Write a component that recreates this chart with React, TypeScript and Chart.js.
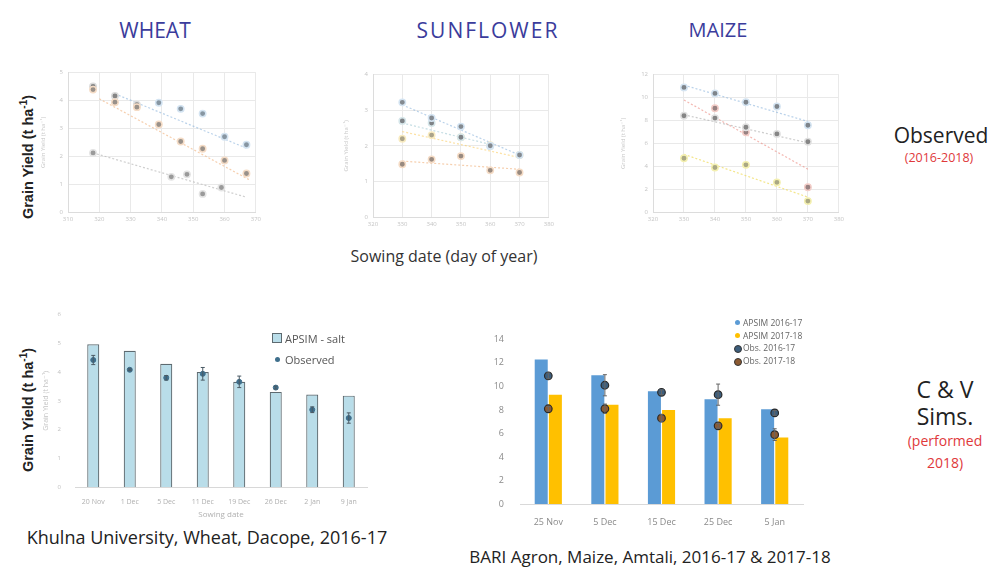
import React, { useEffect, useRef } from "react";
import { Chart, registerables } from "chart.js";
Chart.register(...registerables);

// ---------- Observed (top row) ----------
const wheatTicks = [310, 320, 330, 340, 350, 360, 370];
const wheatBlueX = [339, 346, 353, 360, 367];
const wheatBlueY = [3.92, 3.7, 3.53, 2.7, 2.41];
const wheatOrangeX = [318, 325, 332, 339, 346, 353, 360, 367];
const wheatOrangeY = [4.39, 3.94, 3.76, 3.14, 2.53, 2.27, 1.85, 1.38];
const wheatDarkX = [318, 325, 332];
const wheatDarkY = [4.5, 4.16, 3.85];
const wheatGrayX = [318, 343, 348, 353, 359];
const wheatGrayY = [2.12, 1.26, 1.35, 0.65, 0.88];
const wheatTrendBlueX = [325, 367];
const wheatTrendBlueY = [4.24, 2.29];
const wheatTrendOrangeX = [320, 368];
const wheatTrendOrangeY = [4.06, 1.15];
const wheatTrendGrayX = [318, 367];
const wheatTrendGrayY = [2.12, 0.53];

const sunTicks = [320, 330, 340, 350, 360, 370, 380];
const sunX = [330, 340, 350, 360, 370];
const sunBlueY = [3.22, 2.78, 2.54, 2.0, 1.74];
const sunDarkX = [330, 340, 350, 360];
const sunDarkY = [2.7, 2.64, 2.24, 1.99];
const sunYellowY = [2.2, 2.3, 2.24, 2.02, 1.74];
const sunOrangeY = [1.48, 1.62, 1.71, 1.31, 1.25];
const sunTrendX = [330, 370];
const sunTrendBlueY = [3.15, 1.74];
const sunTrendDarkX = [330, 360];
const sunTrendDarkY = [2.64, 2.04];
const sunTrendYellowY = [2.4, 1.67];
const sunTrendOrangeY = [1.57, 1.34];

const maizeTicks = [320, 330, 340, 350, 360, 370, 380];
const maizeX = [330, 340, 350, 360, 370];
const maizeBlueY = [10.88, 10.36, 9.58, 9.21, 7.57];
const maizeDarkY = [8.4, 8.2, 7.4, 6.82, 6.13];
const maizeRedX = [340, 350, 370];
const maizeRedY = [9.06, 6.96, 2.16];
const maizeYellowY = [4.69, 3.88, 4.12, 2.59, 0.95];
const maizeTrendX = [330, 370];
const maizeTrendBlueY = [11.08, 7.91];
const maizeTrendDarkY = [8.49, 6.04];
const maizeTrendRedY = [9.78, 3.74];
const maizeTrendYellowY = [5.04, 1.3];

// ---------- Simulations (bottom row) ----------
const wheatSimDates = ["20 Nov", "1 Dec", "5 Dec", "11 Dec", "19 Dec", "26 Dec", "2 Jan", "9 Jan"];
const apsimSalt = [4.97, 4.74, 4.29, 4.0, 3.66, 3.31, 3.22, 3.18];
const observedWheat = [4.42, 4.08, 3.8, 3.94, 3.66, 3.46, 2.69, 2.4];
const observedWheatErr = [0.16, 0.03, 0.08, 0.22, 0.2, 0.05, 0.1, 0.18];

const maizeDates = ["25 Nov", "5 Dec", "15 Dec", "25 Dec", "5 Jan"];
const apsim2016 = [12.3, 10.95, 9.6, 8.9, 8.05];
const apsim2017 = [9.3, 8.45, 8.0, 7.3, 5.65];
const obs2016 = [10.9, 10.1, 9.5, 9.3, 7.75];
const obs2017 = [8.1, 8.1, 7.3, 6.65, 5.9];
const obs2016Err = [0.25, 0.9, 0.2, 0.9, 0.2];
const obs2017Err = [0.2, 0.4, 0.3, 0.2, 0.5];

const FONT = "'Open Sans', 'DejaVu Sans', sans-serif";

const pts = (xs: number[], ys: number[]) => xs.map((x, i) => ({ x, y: ys[i] }));

const errorBarPlugin = {
  id: "errorBars",
  afterDatasetsDraw(chart: any) {
    const ctx = chart.ctx;
    const yScale = chart.scales.y;
    chart.data.datasets.forEach((ds: any, i: number) => {
      const errs = ds.errorBars;
      if (!errs) return;
      const meta = chart.getDatasetMeta(i);
      ctx.save();
      ctx.strokeStyle = ds.errorColor || "#555";
      ctx.lineWidth = 1;
      meta.data.forEach((el: any, j: number) => {
        const e = errs[j];
        if (!e) return;
        const v = ds.data[j];
        const val = typeof v === "number" ? v : v.y;
        const x = el.x;
        const y1 = yScale.getPixelForValue(val + e);
        const y2 = yScale.getPixelForValue(val - e);
        ctx.beginPath();
        ctx.moveTo(x, y1);
        ctx.lineTo(x, y2);
        ctx.moveTo(x - 2, y1);
        ctx.lineTo(x + 2, y1);
        ctx.moveTo(x - 2, y2);
        ctx.lineTo(x + 2, y2);
        ctx.stroke();
      });
      ctx.restore();
    });
  },
};

type Series = { x: number[]; y: number[]; fill: string; border: string };
type Trend = { x: number[]; y: number[]; color: string };

function obsConfig(o: {
  ticks: number[];
  yMax: number;
  yStep: number;
  series: Series[];
  trends: Trend[];
  yWidth: number;
  xHeight: number;
  padTop: number;
  padRight: number;
}) {
  const datasets: any[] = [];
  o.trends.forEach((t) =>
    datasets.push({
      type: "line",
      data: pts(t.x, t.y),
      borderColor: t.color,
      borderWidth: 1.2,
      borderDash: [2, 2],
      pointRadius: 0,
      order: 2,
    })
  );
  o.series.forEach((s) =>
    datasets.push({
      type: "scatter",
      data: pts(s.x, s.y),
      backgroundColor: s.fill,
      borderColor: s.border,
      borderWidth: 1.5,
      pointRadius: 3.2,
      order: 1,
    })
  );
  return {
    type: "scatter",
    data: { datasets },
    options: {
      animation: false,
      responsive: false,
      layout: { padding: { top: o.padTop, right: o.padRight, left: 0, bottom: 0 } },
      plugins: { legend: { display: false }, tooltip: { enabled: false } },
      scales: {
        x: {
          type: "linear",
          min: o.ticks[0],
          max: o.ticks[o.ticks.length - 1],
          afterBuildTicks: (s: any) => {
            s.ticks = o.ticks.map((v) => ({ value: v }));
          },
          afterFit: (s: any) => {
            s.height = o.xHeight;
          },
          grid: { color: "#e9e9e9", drawTicks: false },
          border: { color: "#dcdcdc" },
          ticks: { font: { size: 6, family: FONT }, color: "#c4c4c4", padding: 4 },
        },
        y: {
          min: 0,
          max: o.yMax,
          ticks: { stepSize: o.yStep, font: { size: 6, family: FONT }, color: "#c4c4c4", padding: 5 },
          afterFit: (s: any) => {
            s.width = o.yWidth;
          },
          grid: { color: "#e9e9e9", drawTicks: false },
          border: { color: "#dcdcdc" },
          title: { display: true, text: "Grain Yield (t ha⁻¹)", font: { size: 6, family: FONT }, color: "#c8c8c8", padding: 0 },
        },
      },
    },
  };
}

const wheatObsCfg = () =>
  obsConfig({
    ticks: wheatTicks,
    yMax: 5,
    yStep: 1,
    yWidth: 28,
    xHeight: 14,
    padTop: 6,
    padRight: 7,
    trends: [
      { x: wheatTrendBlueX, y: wheatTrendBlueY, color: "rgba(140,180,220,0.6)" },
      { x: wheatTrendOrangeX, y: wheatTrendOrangeY, color: "rgba(240,175,120,0.6)" },
      { x: wheatTrendGrayX, y: wheatTrendGrayY, color: "rgba(175,175,175,0.6)" },
    ],
    series: [
      { x: wheatBlueX, y: wheatBlueY, fill: "#8796a2", border: "#d4e4f2" },
      { x: wheatOrangeX, y: wheatOrangeY, fill: "#99918a", border: "#f5dcc6" },
      { x: wheatDarkX, y: wheatDarkY, fill: "#858585", border: "#dcdcdc" },
      { x: wheatGrayX, y: wheatGrayY, fill: "#9a9a9a", border: "#e4e4e4" },
    ],
  });

const sunObsCfg = () =>
  obsConfig({
    ticks: sunTicks,
    yMax: 4,
    yStep: 1,
    yWidth: 30,
    xHeight: 17,
    padTop: 7,
    padRight: 8,
    trends: [
      { x: sunTrendX, y: sunTrendBlueY, color: "rgba(140,180,220,0.6)" },
      { x: sunTrendDarkX, y: sunTrendDarkY, color: "rgba(160,200,210,0.6)" },
      { x: sunTrendX, y: sunTrendYellowY, color: "rgba(250,205,100,0.6)" },
      { x: sunTrendX, y: sunTrendOrangeY, color: "rgba(240,175,120,0.6)" },
    ],
    series: [
      { x: sunX, y: sunBlueY, fill: "#848a90", border: "#d4e4f2" },
      { x: sunDarkX, y: sunDarkY, fill: "#7e8286", border: "#d6e6ea" },
      { x: sunX, y: sunYellowY, fill: "#aaa38a", border: "#f8ebc0" },
      { x: sunX, y: sunOrangeY, fill: "#988a80", border: "#f5dcc6" },
    ],
  });

const maizeObsCfg = () =>
  obsConfig({
    ticks: maizeTicks,
    yMax: 12,
    yStep: 2,
    yWidth: 33,
    xHeight: 14,
    padTop: 7,
    padRight: 8,
    trends: [
      { x: maizeTrendX, y: maizeTrendBlueY, color: "rgba(140,180,220,0.6)" },
      { x: maizeTrendX, y: maizeTrendDarkY, color: "rgba(170,170,170,0.6)" },
      { x: maizeTrendX, y: maizeTrendRedY, color: "rgba(235,135,125,0.6)" },
      { x: maizeTrendX, y: maizeTrendYellowY, color: "rgba(240,220,90,0.7)" },
    ],
    series: [
      { x: maizeX, y: maizeBlueY, fill: "#7e848a", border: "#d4e4f2" },
      { x: maizeX, y: maizeDarkY, fill: "#858585", border: "#e0e0e0" },
      { x: maizeRedX, y: maizeRedY, fill: "#988282", border: "#f3cdc8" },
      { x: maizeX, y: maizeYellowY, fill: "#aaa884", border: "#f4f0b0" },
    ],
  });

const wheatSimCfg = () => ({
  type: "bar",
  data: {
    labels: wheatSimDates,
    datasets: [
      {
        type: "line",
        data: observedWheat,
        showLine: false,
        pointRadius: 2.5,
        backgroundColor: "#3f6f8c",
        borderColor: "#3f6f8c",
        errorBars: observedWheatErr,
        errorColor: "#4a5a64",
        order: 0,
      },
      {
        type: "bar",
        data: apsimSalt,
        backgroundColor: "#b9dde9",
        borderColor: "#5d6a70",
        borderWidth: 1.2,
        categoryPercentage: 1,
        barPercentage: 0.33,
        order: 1,
      },
    ],
  },
  options: {
    animation: false,
    responsive: false,
    layout: { padding: { top: 7, right: 8, left: 0, bottom: 0 } },
    plugins: { legend: { display: false }, tooltip: { enabled: false } },
    scales: {
      x: {
        afterFit: (s: any) => {
          s.height = 38;
        },
        grid: { display: false },
        border: { color: "#d8d8d8" },
        ticks: { font: { size: 7, family: FONT }, color: "#b0b0b0", padding: 3, maxRotation: 0 },
        title: { display: true, text: "Sowing date", font: { size: 8, family: FONT }, color: "#b0b0b0", padding: { top: 2, bottom: 5 } },
      },
      y: {
        min: 0,
        max: 6,
        ticks: { stepSize: 1, font: { size: 6, family: FONT }, color: "#c0c0c0", padding: 6 },
        afterFit: (s: any) => {
          s.width = 35;
        },
        grid: { display: false },
        border: { display: false },
        title: { display: true, text: "Grain Yield (t ha⁻¹)", font: { size: 7, family: FONT }, color: "#c4c4c4", padding: 2 },
      },
    },
  },
  plugins: [errorBarPlugin],
});

const maizeSimCfg = () => ({
  type: "bar",
  data: {
    labels: maizeDates,
    datasets: [
      {
        type: "line",
        data: obs2016,
        showLine: false,
        pointRadius: 3.8,
        backgroundColor: "#3d5e7c",
        borderColor: "#2a2a2a",
        borderWidth: 1.2,
        errorBars: obs2016Err,
        errorColor: "#666",
        order: 0,
      },
      {
        type: "line",
        data: obs2017,
        showLine: false,
        pointRadius: 3.8,
        backgroundColor: "#8c5a32",
        borderColor: "#2a2a2a",
        borderWidth: 1.2,
        errorBars: obs2017Err,
        errorColor: "#666",
        order: 0,
      },
      {
        type: "bar",
        data: apsim2016,
        backgroundColor: "#5b9bd5",
        categoryPercentage: 0.5,
        barPercentage: 0.92,
        order: 1,
      },
      {
        type: "bar",
        data: apsim2017,
        backgroundColor: "#ffc000",
        categoryPercentage: 0.5,
        barPercentage: 0.92,
        order: 1,
      },
    ],
  },
  options: {
    animation: false,
    responsive: false,
    layout: { padding: { top: 8, right: 7, left: 0, bottom: 0 } },
    plugins: { legend: { display: false }, tooltip: { enabled: false } },
    scales: {
      x: {
        afterFit: (s: any) => {
          s.height = 22;
        },
        grid: { display: false },
        border: { color: "#d9d9d9" },
        ticks: { font: { size: 9, family: FONT }, color: "#8a8a8a", padding: 5, maxRotation: 0 },
      },
      y: {
        min: 0,
        max: 14,
        ticks: { stepSize: 2, font: { size: 9, family: FONT }, color: "#8a8a8a", padding: 8 },
        afterFit: (s: any) => {
          s.width = 30;
        },
        grid: { display: false },
        border: { display: false },
      },
    },
  },
  plugins: [errorBarPlugin],
});

function ChartBox(props: { left: number; top: number; width: number; height: number; make: () => any }) {
  const ref = useRef<HTMLCanvasElement>(null);
  useEffect(() => {
    if (!ref.current) return;
    const chart = new Chart(ref.current, props.make());
    return () => chart.destroy();
  }, []);
  return (
    <canvas
      ref={ref}
      width={props.width}
      height={props.height}
      style={{ position: "absolute", left: props.left, top: props.top, width: props.width, height: props.height }}
    />
  );
}

function T(props: { x: number; y: number; size: number; color?: string; bold?: boolean; children: any; anchor?: "left" | "center" }) {
  const center = props.anchor === "center";
  return (
    <div
      style={{
        position: "absolute",
        left: props.x,
        top: props.y,
        transform: center ? "translate(-50%, -50%)" : "translateY(-50%)",
        fontFamily: FONT,
        fontSize: props.size,
        color: props.color || "#222",
        fontWeight: props.bold ? 700 : 400,
        whiteSpace: "nowrap",
        lineHeight: 1,
      }}
    >
      {props.children}
    </div>
  );
}

function VLabel(props: { x: number; y: number }) {
  return (
    <div
      style={{
        position: "absolute",
        left: props.x,
        top: props.y,
        transform: "translate(-50%, -50%) rotate(-90deg)",
        fontFamily: "'Liberation Sans', 'DejaVu Sans', sans-serif",
        fontSize: 14.5,
        fontWeight: 700,
        color: "#222",
        whiteSpace: "nowrap",
        lineHeight: 1,
      }}
    >
      Grain Yield (t ha<sup style={{ fontSize: 10 }}>-1</sup>)
    </div>
  );
}

export default function App() {
  const blue = "#3b3c9c";
  const red = "#e0393b";
  return (
    <div style={{ position: "absolute", left: 0, top: 0, width: 998, height: 567, background: "#fff", overflow: "hidden" }}>
      <T x={155} y={30} size={21} color={blue} anchor="center">WHEAT</T>
      <T x={488} y={30} size={21} color={blue} anchor="center"><span style={{ letterSpacing: 2 }}>SUNFLOWER</span></T>
      <T x={718} y={30} size={20} color={blue} anchor="center">MAIZE</T>

      <VLabel x={27} y={157} />
      <VLabel x={27} y={410} />

      <ChartBox left={40} top={64} width={225} height={162} make={wheatObsCfg} />
      <ChartBox left={343} top={66} width={215} height={168} make={sunObsCfg} />
      <ChartBox left={620} top={66} width={228} height={160} make={maizeObsCfg} />

      <T x={444} y={256} size={16} color="#333" anchor="center">Sowing date (day of year)</T>

      <T x={941} y={135} size={21} color="#222" anchor="center">Observed</T>
      <T x={939} y={158} size={12.5} color={red} anchor="center">(2016-2018)</T>

      <ChartBox left={40} top={305} width={335} height={220} make={wheatSimCfg} />
      <ChartBox left={490} top={326} width={320} height={200} make={maizeSimCfg} />

      {/* legend: wheat sims */}
      <div style={{ position: "absolute", left: 272, top: 333, width: 8, height: 8, background: "#b9dde9", border: "1px solid #5d6a70" }} />
      <T x={285} y={338} size={11} color="#555">APSIM - salt</T>
      <div style={{ position: "absolute", left: 275, top: 357, width: 5, height: 5, borderRadius: 3, background: "#3f6f8c" }} />
      <T x={285} y={359} size={11} color="#555">Observed</T>

      {/* legend: maize sims */}
      <div style={{ position: "absolute", left: 735, top: 320, width: 5, height: 5, borderRadius: 3, background: "#5b9bd5" }} />
      <T x={743} y={323} size={8.5} color="#666">APSIM 2016-17</T>
      <div style={{ position: "absolute", left: 735, top: 333, width: 5, height: 5, borderRadius: 3, background: "#ffc000" }} />
      <T x={743} y={336} size={8.5} color="#666">APSIM 2017-18</T>
      <div style={{ position: "absolute", left: 734, top: 345, width: 6, height: 6, borderRadius: 4, background: "#3d5e7c", border: "1px solid #333" }} />
      <T x={743} y={348} size={8.5} color="#666">Obs. 2016-17</T>
      <div style={{ position: "absolute", left: 734, top: 358, width: 6, height: 6, borderRadius: 4, background: "#8c5a32", border: "1px solid #333" }} />
      <T x={743} y={361} size={8.5} color="#666">Obs. 2017-18</T>

      <T x={207} y={537} size={18} color="#222" anchor="center">Khulna University, Wheat, Dacope, 2016-17</T>
      <T x={650} y={556} size={17} color="#222" anchor="center">BARI Agron, Maize, Amtali, 2016-17 &amp; 2017-18</T>

      <T x={945} y={389} size={23} color="#222" anchor="center">C &amp; V</T>
      <T x={945} y={416} size={23} color="#222" anchor="center">Sims.</T>
      <T x={945} y={441} size={14} color={red} anchor="center">(performed</T>
      <T x={945} y={463} size={14} color={red} anchor="center">2018)</T>
    </div>
  );
}
